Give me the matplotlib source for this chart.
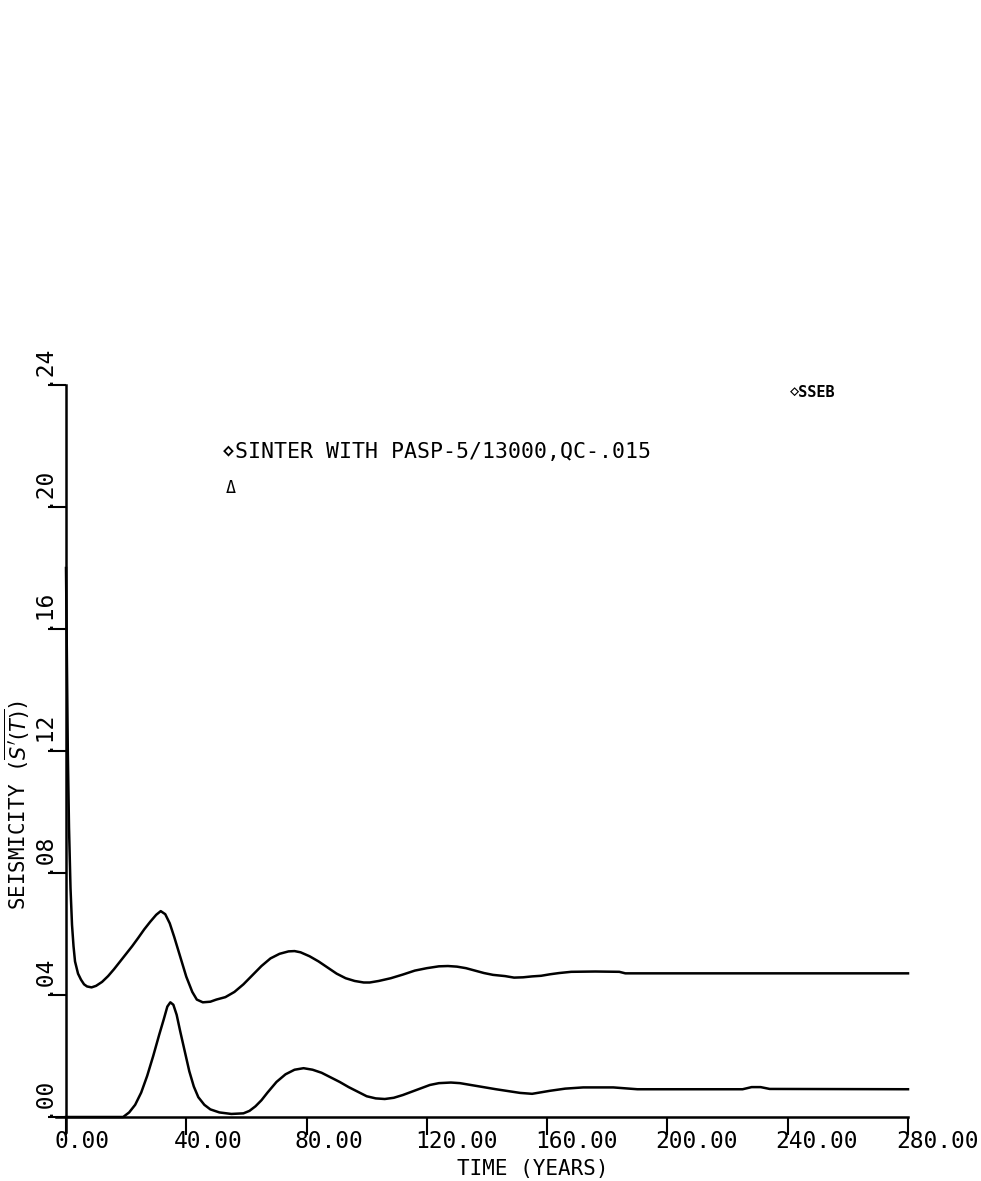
import matplotlib
matplotlib.use("Agg")
import matplotlib.pyplot as plt
from matplotlib import transforms

# upper curve (SINTER WITH PASP-5/13000, QC-.015)
t_upper = [0, 0.3, 0.6, 1.0, 1.5, 2, 2.5, 3, 4, 5, 6, 7, 8.5, 10, 12, 14, 16, 18,
           20, 22, 24, 26, 28, 30, 31.5, 33, 34.5, 36, 38, 40, 42, 43.5, 45.5, 48,
           50, 53, 56, 59, 62, 65, 68, 71, 74, 76, 78, 81, 84, 87, 90, 93, 96, 99,
           101, 104, 108, 112, 116, 120, 124, 127, 130, 133, 136, 139, 142, 146,
           149, 152, 155, 158, 161, 164, 168, 176, 184, 186, 280]
s_upper = [0.180, 0.150, 0.120, 0.095, 0.075, 0.063, 0.056, 0.051, 0.047, 0.045,
           0.0435, 0.0428, 0.0425, 0.0430, 0.0443, 0.0462, 0.0485, 0.051,
           0.0535, 0.056, 0.0587, 0.0615, 0.064, 0.0663, 0.0675, 0.0665, 0.0635,
           0.059, 0.0525, 0.046, 0.041, 0.0385, 0.0376, 0.0378,
           0.0385, 0.0393, 0.041, 0.0435, 0.0465, 0.0495, 0.052, 0.0535, 0.0543,
           0.0544, 0.054, 0.0527, 0.051, 0.049, 0.047, 0.0455, 0.0446, 0.0441,
           0.0441, 0.0446, 0.0455, 0.0467, 0.048, 0.0488, 0.0494, 0.0495, 0.0493,
           0.0488, 0.048, 0.0472, 0.0466, 0.0462,
           0.0457, 0.0458, 0.0461, 0.0463, 0.0468, 0.0472, 0.0476, 0.0477, 0.0476,
           0.0471, 0.0471]

# lower curve (triangle series)
t_lower = [0, 19, 21, 23, 25, 27, 29, 31, 32.5, 33.7, 34.7, 35.7, 36.8, 38, 39.5,
           41, 42.5, 44, 46, 48, 51, 55, 59, 61, 63, 65, 67, 70, 73, 76, 79, 82,
           85, 88, 91, 94, 97, 100, 103, 106, 109, 112, 115, 118, 121, 124, 128,
           131, 134, 137, 140, 143, 147, 151, 155, 158, 161, 166, 172, 182, 190,
           225, 228, 231, 234, 280]
s_lower = [0.0, 0.0, 0.0015, 0.004, 0.008, 0.0135, 0.020, 0.027, 0.032, 0.0362,
           0.0376, 0.0368, 0.0335, 0.028, 0.0215,
           0.015, 0.010, 0.0065, 0.004, 0.0025, 0.0015, 0.001, 0.0012, 0.002,
           0.0035, 0.0055, 0.008, 0.0115, 0.014, 0.0155, 0.016, 0.0155,
           0.0145, 0.013, 0.0115, 0.0098, 0.0083, 0.0068, 0.0061, 0.0059, 0.0063,
           0.0072, 0.0083, 0.0094, 0.0105, 0.0111, 0.0113,
           0.0111, 0.0106, 0.0101, 0.0096, 0.0091, 0.0085, 0.0079, 0.0076, 0.0081,
           0.0086, 0.0093, 0.0097, 0.0097, 0.0091,
           0.0091, 0.0098, 0.0098, 0.0092, 0.0091]

x_ticks = [0, 40, 80, 120, 160, 200, 240, 280]
x_labels = ["0.00", "40.00", "80.00", "120.00", "160.00", "200.00", "240.00", "280.00"]
y_ticks = [0.00, 0.04, 0.08, 0.12, 0.16, 0.20, 0.24]
y_labels = [".00", ".04", ".08", ".12", ".16", ".20", ".24"]

mono = ["DejaVu Sans Mono", "DejaVu Sans"]
W, H = 981, 1181

fig = plt.figure(figsize=(W / 100, H / 100), dpi=100)
ax = fig.add_axes([66 / W, 1 - 1117 / H, (908 - 66) / W, (1117 - 385) / H])
ax.set_xlim(0, 280)
ax.set_ylim(0, 0.24)
for sp in ax.spines.values():
    sp.set_visible(False)

ax.plot(t_upper, s_upper, color="black", lw=1.8, clip_on=False)
ax.plot(t_lower, s_lower, color="black", lw=1.8, clip_on=False)

# axis lines, slightly overshooting like the plotter drawing
ax.plot([-0.012, 1.0], [0, 0], transform=ax.transAxes, color="black", lw=1.8, clip_on=False)
ax.plot([0, 0], [-0.02, 1.0], transform=ax.transAxes, color="black", lw=1.8, clip_on=False)

ax.set_xticks(x_ticks)
ax.set_yticks(y_ticks)
ax.set_xticklabels([])
ax.set_yticklabels([])
ax.tick_params(direction="out", length=13, width=1.5, color="black")

# x tick labels, left aligned a bit before the tick
xt = transforms.blended_transform_factory(ax.transData, fig.transFigure)
shift = transforms.ScaledTranslation(-12 / 100, 0, fig.dpi_scale_trans)
for x, lab in zip(x_ticks, x_labels):
    ax.text(x, 1 - 1130 / H, lab, transform=xt + shift, ha="left", va="top",
            fontsize=16.5, family=mono)

# y tick labels, rotated, starting at the tick and running upward
yt = transforms.blended_transform_factory(fig.transFigure, ax.transData)
for y, lab in zip(y_ticks, y_labels):
    ax.text(49 / W, y, lab, transform=yt, rotation=90, rotation_mode="anchor",
            ha="left", va="baseline", fontsize=16.5, family=mono)

fig.text(533 / W, 1 - 1159 / H, "TIME (YEARS)", ha="center", va="top",
         fontsize=15, family=mono)
fig.text(17 / W, 1 - 805 / H, r"SEISMICITY ($\overline{S'(T)}$)", rotation=90,
         ha="center", va="center", fontsize=15, family=mono)

# legend entries
fig.text(222 / W, 1 - 452 / H, "\u22c4SINTER WITH PASP-5/13000,QC-.015",
         ha="left", va="center", fontsize=15.5, family=mono)
fig.text(226 / W, 1 - 488 / H, "\u0394", ha="left", va="center",
         fontsize=12, family=mono)
fig.text(790 / W, 1 - 392 / H, "\u22c4SSEB", ha="left", va="center",
         fontsize=11, family=mono, fontweight="bold")

fig.savefig("out.png", dpi=100, facecolor="white")
